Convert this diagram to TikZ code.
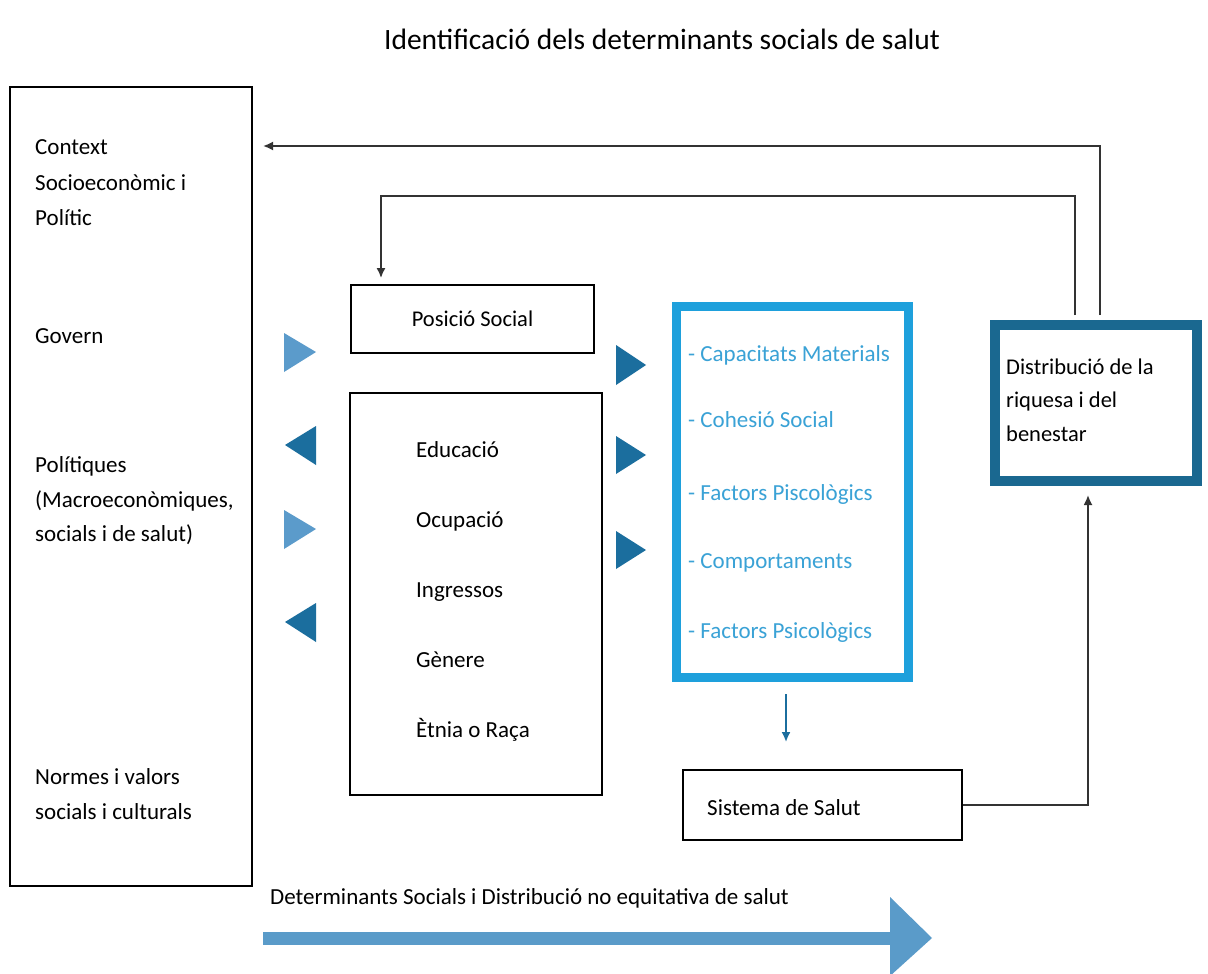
\documentclass[tikz,border=0pt]{standalone}
\usepackage{fontspec}
\setmainfont{Carlito}
\usetikzlibrary{arrows.meta}
\definecolor{lightb}{HTML}{5B9BCB}
\definecolor{darkb}{HTML}{1B6E9E}
\definecolor{cyanb}{HTML}{1EA0DC}
\definecolor{cyantext}{HTML}{3AA2D6}
\definecolor{navyb}{HTML}{1A6890}
\definecolor{linec}{HTML}{333333}
\definecolor{arrowb}{HTML}{5A9BC9}
\begin{document}
\begin{tikzpicture}[x=1pt,y=-1pt,
  txt/.style={inner sep=0pt, anchor=base west, font=\fontsize{23}{35}\selectfont, align=left},
  box/.style={draw=black, line width=1.8pt, inner sep=0pt},
  conn/.style={draw=linec, line width=1.8pt, -{Latex[length=10pt,width=9pt]}},
  tril/.style={fill=lightb},
  trid/.style={fill=darkb}
]
\useasboundingbox (0,0) rectangle (1208,974);
\fill[white] (0,0) rectangle (1208,974);

% title
\node[inner sep=0pt, anchor=base, font=\fontsize{29.5}{34}\selectfont] (title) at (662,50) {Identificació dels determinants socials de salut};

% boxes
\node[box, minimum width=242, minimum height=799] (ctx) at (131,486.5) {};
\node[box, minimum width=243, minimum height=68, font=\fontsize{22.5}{26}\selectfont] (pos) at (472.5,319) {Posició Social\hspace{12pt}};
\node[box, minimum width=252, minimum height=402] (det) at (476,594) {};
\node[draw=cyanb, line width=9pt, minimum width=232, minimum height=371, inner sep=0pt] (blue) at (792.5,492) {};
\node[draw=navyb, line width=10pt, minimum width=202, minimum height=156, inner sep=0pt] (dist) at (1096,403) {};
\node[box, minimum width=279, minimum height=70] (sys) at (822.5,805) {};

% left box texts (base anchor = last line baseline)
\node[txt, font=\fontsize{23}{35.5}\selectfont] (c1) at (35,225.5) {Context\\Socioeconòmic i\\Polític};
\node[txt] (c2) at (35,343.5) {Govern};
\node[txt, font=\fontsize{23}{34.5}\selectfont] (c3) at (35,541.5) {Polítiques\\(Macroeconòmiques,\\socials i de salut)};
\node[txt] (c4) at (35,819.5) {Normes i valors\\socials i culturals};

% determinants texts
\node[txt] (e1) at (416,457.5) {Educació};
\node[txt] (e2) at (416,527.5) {Ocupació};
\node[txt] (e3) at (416,597.5) {Ingressos};
\node[txt] (e4) at (416,667.5) {Gènere};
\node[txt] (e5) at (416,737.5) {Ètnia o Raça};

% blue box texts
\node[txt, text=cyantext] (b1) at (688,361.5) {- Capacitats Materials};
\node[txt, text=cyantext] (b2) at (688,427.5) {- Cohesió Social};
\node[txt, text=cyantext] (b3) at (688,500.5) {- Factors Piscològics};
\node[txt, text=cyantext] (b4) at (688,568.5) {- Comportaments};
\node[txt, text=cyantext] (b5) at (688,638.5) {- Factors Psicològics};

% distribucio text
\node[txt, font=\fontsize{22.5}{33.5}\selectfont] (dt) at (1006,441) {Distribució de la\\riquesa i del\\benestar};

% sistema text
\node[txt] (st) at (707,815.5) {Sistema de Salut};

% bottom text
\node[txt] (bt) at (270,904.5) {Determinants Socials i Distribució no equitativa de salut};

% triangles left column
\fill[tril] (284,333) -- (316,352) -- (284,372) -- cycle;
\fill[trid] (316,426) -- (285,445) -- (316,465) -- cycle;
\fill[tril] (284,510) -- (316,529) -- (284,549) -- cycle;
\fill[trid] (316,603) -- (285,622) -- (316,642) -- cycle;
% triangles right column
\fill[trid] (616,345) -- (646,365) -- (616,385) -- cycle;
\fill[trid] (616,436) -- (646,455) -- (616,474) -- cycle;
\fill[trid] (616,531) -- (646,550) -- (616,569) -- cycle;

% connectors
\coordinate (ctxin) at (263,146);
\coordinate (bend) at (381,196);
\draw[conn] ([xshift=4pt,yshift=5pt]dist.north) |- (ctxin);
\draw[conn] ([xshift=-21pt,yshift=5pt]dist.north) |- (bend) -- ([yshift=6pt]bend |- pos.north);
\draw[draw=darkb, line width=2pt, -{Latex[length=10pt,width=9pt]}] ([xshift=-6.5pt,yshift=-12pt]blue.south) -- ([xshift=-36.5pt,yshift=27pt]sys.north);
\draw[conn] (sys.east) -| ([xshift=-8pt,yshift=-9pt]dist.south);

% bottom big arrow
\fill[arrowb] (263,932) rectangle (892,945);
\fill[arrowb] (890,897) -- (932,938) -- (890,976) -- cycle;
\end{tikzpicture}
\end{document}
